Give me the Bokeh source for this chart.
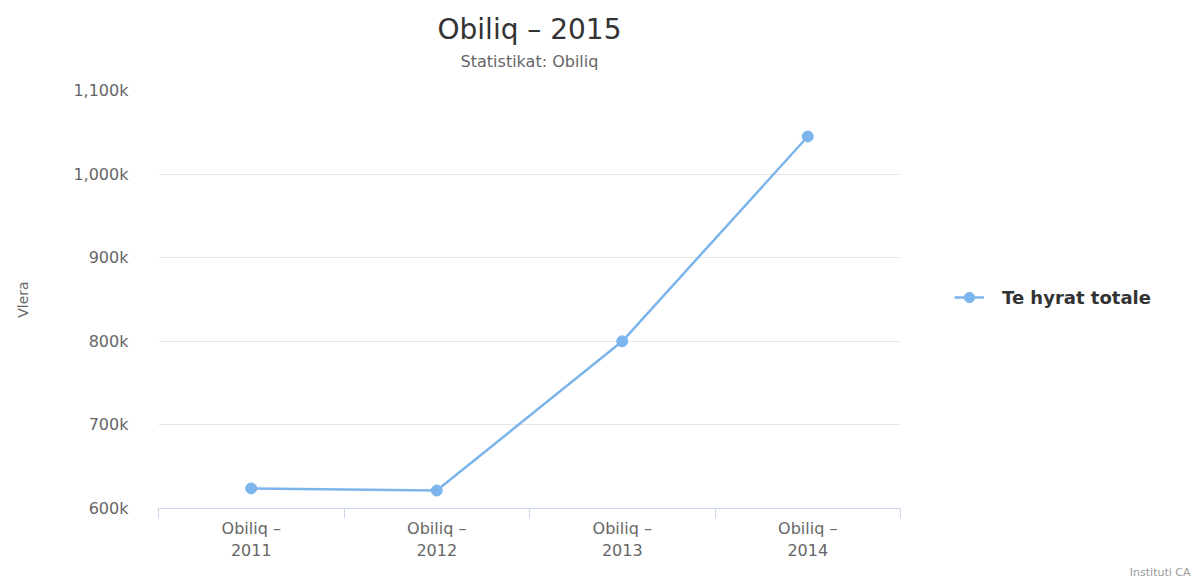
from bokeh.plotting import figure
from bokeh.models import (Range1d, FixedTicker, Legend, LegendItem, Title,
                          ColumnDataSource)
from bokeh.embed import file_html
from bokeh.resources import INLINE

# ---- data ----
categories = ["Obiliq – 2011", "Obiliq – 2012", "Obiliq – 2013", "Obiliq – 2014"]
values = [624000, 621500, 800000, 1045000]
series_name = "Te hyrat totale"
ytick_values = [600000, 700000, 800000, 900000, 1000000, 1100000]
ytick_labels = ["600k", "700k", "800k", "900k", "1,000k", "1,100k"]
title_text = "Obiliq – 2015"
subtitle_text = "Statistikat: Obiliq"
yaxis_title = "Vlera"
credits_text = "Instituti CA"

FONT = "DejaVu Sans"
LINE_COLOR = "#7cb5ec"

xpos = [i + 0.5 for i in range(len(categories))]
src = ColumnDataSource(dict(x=xpos, y=values, cat=categories))

p = figure(frame_width=742, frame_height=418,
           min_border_left=158, min_border_right=290,
           min_border_top=90, min_border_bottom=0,
           x_range=Range1d(0, len(categories)),
           y_range=Range1d(ytick_values[0], ytick_values[-1]),
           output_backend="svg", toolbar_location=None, title=None)
p.outline_line_color = None
p.background_fill_color = "white"
p.border_fill_color = "white"

# titles (added bottom-up): spacer, subtitle, title
p.add_layout(Title(text=" ", text_font_size="1px", standoff=13), "above")
p.add_layout(Title(text=subtitle_text, align="center", text_font=FONT,
                   text_font_size="16px", text_font_style="normal",
                   text_color="#666666", standoff=8), "above")
p.add_layout(Title(text=title_text, align="center", text_font=FONT,
                   text_font_size="28px", text_font_style="normal",
                   text_color="#333333", standoff=0), "above")

# x axis: labels at category centres, tick marks at boundaries
xa = p.xaxis[0]
xa.ticker = FixedTicker(ticks=xpos, minor_ticks=list(range(len(categories) + 1)))
xa.major_label_overrides = {x: c.replace(" – ", " –\n") for x, c in zip(xpos, categories)}
xa.major_tick_out = 0
xa.major_tick_in = 0
xa.minor_tick_out = 10
xa.minor_tick_in = 0
xa.minor_tick_line_color = "#ccd6eb"
xa.axis_line_color = "#ccd6eb"
xa.major_label_text_font = FONT
xa.major_label_text_font_size = "16px"
xa.major_label_text_color = "#666666"
xa.major_label_standoff = 0
p.xgrid.visible = False

# y axis
ya = p.yaxis[0]
ya.ticker = FixedTicker(ticks=ytick_values)
ya.major_label_overrides = {v: l for v, l in zip(ytick_values, ytick_labels)}
ya.axis_line_color = None
ya.major_tick_line_color = None
ya.minor_tick_line_color = None
ya.major_tick_out = 0
ya.major_tick_in = 0
ya.major_label_text_font = FONT
ya.major_label_text_font_size = "16px"
ya.major_label_text_color = "#666666"
ya.major_label_standoff = 30
ya.axis_label = yaxis_title
ya.axis_label_text_font = FONT
ya.axis_label_text_font_size = "14px"
ya.axis_label_text_font_style = "normal"
ya.axis_label_text_color = "#666666"
ya.axis_label_standoff = 39
p.ygrid.ticker = FixedTicker(ticks=ytick_values)
p.ygrid.grid_line_color = "#e6e6e6"

# series
lr = p.line("x", "y", source=src, line_color=LINE_COLOR, line_width=2.5)
cr = p.scatter("x", "y", source=src, size=11, fill_color=LINE_COLOR,
               line_color=LINE_COLOR)

legend = Legend(items=[LegendItem(label=series_name, renderers=[lr, cr])],
                location=(54, 198), margin=0, padding=5,
                glyph_width=30, glyph_height=26, label_standoff=18,
                label_text_font=FONT, label_text_font_size="18px",
                label_text_font_style="bold", label_text_color="#333333",
                border_line_color=None, background_fill_alpha=0)
p.add_layout(legend, "right")

# credits, right-aligned at the page edge below the x axis
p.add_layout(Title(text=credits_text, align="right", offset=-290,
                   text_font=FONT, text_font_size="11px", text_font_style="normal",
                   text_color="#999999", standoff=0), "below")

open("out.html", "w").write(file_html(p, INLINE))
